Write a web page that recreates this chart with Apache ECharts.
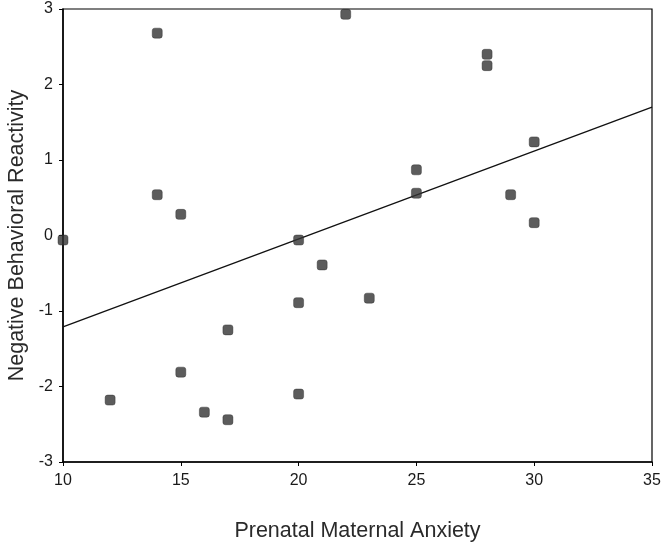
<!DOCTYPE html>
<html>
<head>
<meta charset="utf-8">
<script src="https://cdn.jsdelivr.net/npm/echarts@6/dist/echarts.min.js"></script>
<style>
  html, body { margin: 0; padding: 0; background: #fff; }
  #chart { width: 665px; height: 547px; }
</style>
</head>
<body>
<div id="chart"></div>
<script>
// 散点数据：焦虑分数 / 行为反应
const anxiety = [10, 12, 14, 14, 15, 15, 16, 17, 17, 20, 20, 20, 21, 22, 23, 25, 25, 28, 28, 29, 30, 30];
const reactivity = [-0.06, -2.18, 2.68, 0.54, 0.28, -1.81, -2.34, -1.25, -2.44, -0.06, -0.89, -2.10, -0.39, 2.93, -0.83, 0.87, 0.56, 2.40, 2.25, 0.54, 1.24, 0.17];

// 回归线端点
const fitX = [10, 35];
const fitY = [-1.21, 1.70];

const chart = echarts.init(document.getElementById("chart"));

const axisText = { color: "#1a1a1a", fontSize: 16, fontFamily: "Liberation Sans, Arial, sans-serif" };
const nameText = { color: "#2a2a2a", fontSize: 21.5, fontFamily: "Liberation Sans, Arial, sans-serif" };

chart.setOption({
  animation: false,
  grid: {
    left: 63, top: 9, right: 13, bottom: 85,
    outerBoundsMode: "none",
    containLabel: false,
    show: true, borderColor: "#000", borderWidth: 1.2
  },
  xAxis: {
    type: "value",
    min: 10, max: 35, interval: 5,
    name: "Prenatal Maternal Anxiety",
    nameLocation: "middle",
    nameGap: 58,
    nameTextStyle: nameText,
    axisLine: { onZero: false, lineStyle: { color: "#000", width: 1.5 } },
    axisTick: { show: true, length: 4, lineStyle: { color: "#000" } },
    axisLabel: Object.assign({ margin: 11 }, axisText),
    splitLine: { show: false }
  },
  yAxis: {
    type: "value",
    min: -3, max: 3, interval: 1,
    name: "Negative Behavioral Reactivity",
    nameLocation: "middle",
    nameGap: 29,
    nameTextStyle: nameText,
    axisLine: { show: true, onZero: false, lineStyle: { color: "#000", width: 1.5 } },
    axisTick: { show: true, length: 4, lineStyle: { color: "#000" } },
    axisLabel: Object.assign({ margin: 10 }, axisText),
    splitLine: { show: false }
  },
  series: [
    {
      type: "line",
      data: fitX.map((x, i) => [x, fitY[i]]),
      symbol: "none",
      lineStyle: { color: "#111", width: 1.3 },
      z: 1
    },
    {
      type: "scatter",
      data: anxiety.map((x, i) => [x, reactivity[i]]),
      symbol: "roundRect",
      symbolSize: 10,
      itemStyle: { color: "#333", borderColor: "#222", borderWidth: 0.5 },
      z: 3
    }
  ]
});
</script>
</body>
</html>
